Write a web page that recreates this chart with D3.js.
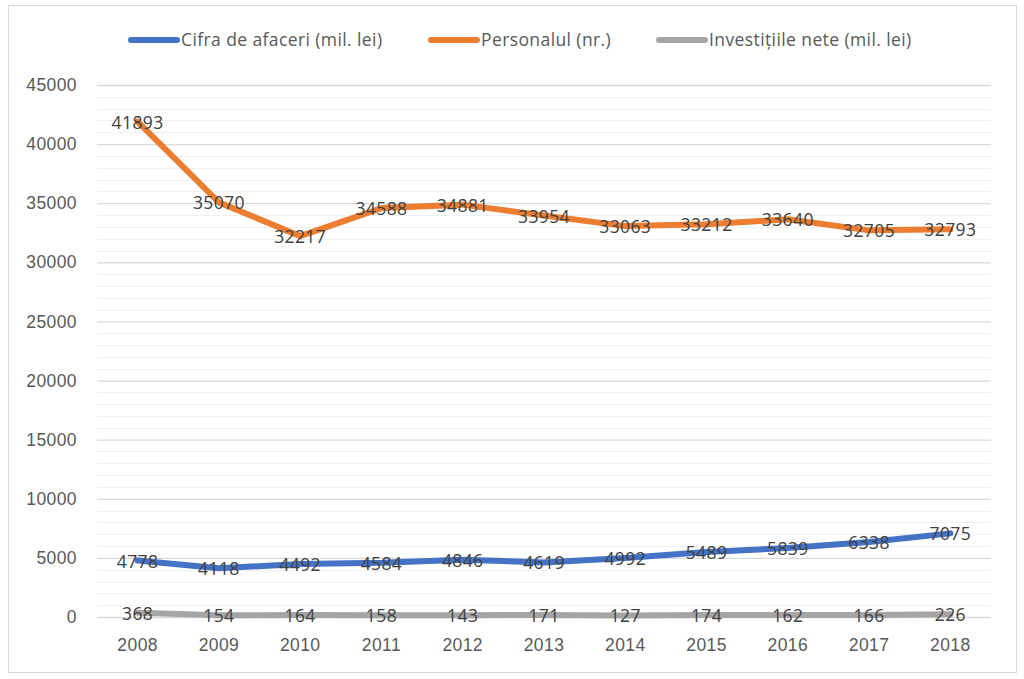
<!DOCTYPE html>
<html lang="ro">
<head>
<meta charset="UTF-8">
<title>Cifra de afaceri, personal, investitii</title>
<script src="https://d3js.org/d3.v7.min.js"></script>
<style>
    body, html { margin: 0; padding: 0; background: #fff; }
    svg { display: block; font-family: "Open Sans", "Noto Sans", sans-serif; }
</style>
</head>
<body>
<div id="chart"></div>
<script>
// data
var years = ["2008","2009","2010","2011","2012","2013","2014","2015","2016","2017","2018"];
var cifraAfaceri = [4778, 4118, 4492, 4584, 4846, 4619, 4992, 5489, 5839, 6338, 7075];
var personalul = [41893, 35070, 32217, 34588, 34881, 33954, 33063, 33212, 33640, 32705, 32793];
var investitii = [368, 154, 164, 158, 143, 171, 127, 174, 162, 166, 226];
var seriesNames = ["Cifra de afaceri (mil. lei)", "Personalul (nr.)", "Investițiile nete (mil. lei)"];
var yTicks = [0, 5000, 10000, 15000, 20000, 25000, 30000, 35000, 40000, 45000];

var W = 1024, H = 679;
var margin = {top: 85, right: 33, bottom: 62, left: 97};
var width = W - margin.left - margin.right,
    height = H - margin.top - margin.bottom;

var svg = d3.select("#chart").append("svg")
    .attr("width", W).attr("height", H);

// frame
svg.append("rect")
    .attr("x", 8.5).attr("y", 5.5)
    .attr("width", 1008).attr("height", 667)
    .attr("fill", "#fff").attr("stroke", "#d9d9d9").attr("stroke-width", 1);

var g = svg.append("g")
    .attr("transform", "translate(" + margin.left + "," + margin.top + ")");

var x = d3.scaleBand().domain(years).range([0, width]);
var y = d3.scaleLinear().domain([0, 45000]).range([height, 0]);

// minor gridlines every 1000
g.selectAll(".minor")
    .data(d3.range(1000, 45000, 1000).filter(function(v) { return v % 5000 !== 0; }))
    .enter().append("line")
    .attr("x1", 0).attr("x2", width)
    .attr("y1", function(d) { return Math.round(y(d)) + 0.5; })
    .attr("y2", function(d) { return Math.round(y(d)) + 0.5; })
    .attr("stroke", "#f0f0f0").attr("stroke-width", 1);

// major gridlines + y labels
var yAxis = g.append("g")
    .call(d3.axisLeft(y).tickValues(yTicks).tickSize(-width).tickFormat(d3.format("d")));
yAxis.select(".domain").remove();
yAxis.selectAll(".tick line").attr("stroke", "#d9d9d9").attr("stroke-width", 1.3);
yAxis.selectAll(".tick text")
    .attr("x", -20).attr("font-size", 17.5).attr("letter-spacing", 0.4).attr("fill", "#595959");

// x labels
var xAxis = g.append("g")
    .attr("transform", "translate(0," + height + ")")
    .call(d3.axisBottom(x).tickSize(0));
xAxis.select(".domain").remove();
xAxis.selectAll(".tick text")
    .attr("y", 28).attr("dy", "0.36em")
    .attr("font-size", 17.5).attr("letter-spacing", 0.4).attr("fill", "#595959");

var colors = ["#4472C4", "#ED7D31", "#A5A5A5"];
var allSeries = [cifraAfaceri, personalul, investitii];

var line = d3.line()
    .x(function(d, i) { return x(years[i]) + x.bandwidth() / 2; })
    .y(function(d) { return y(d); });

// draw grey first, then blue, then orange
[2, 0, 1].forEach(function(k) {
    g.append("path")
        .datum(allSeries[k])
        .attr("fill", "none")
        .attr("stroke", colors[k])
        .attr("stroke-width", 6)
        .attr("stroke-linejoin", "round")
        .attr("stroke-linecap", "round")
        .attr("d", line);
});

// data labels centred on points
allSeries.forEach(function(s) {
    g.selectAll(null).data(s).enter().append("text")
        .attr("x", function(d, i) { return x(years[i]) + x.bandwidth() / 2; })
        .attr("y", function(d) { return y(d); })
        .attr("dy", "0.4em")
        .attr("text-anchor", "middle")
        .attr("font-size", 17.5)
        .attr("letter-spacing", 0.4)
        .attr("fill", "#404040")
        .text(function(d) { return d; });
});

// legend
var legendX = [128, 428, 656];
seriesNames.forEach(function(name, k) {
    svg.append("line")
        .attr("x1", legendX[k] + 3).attr("x2", legendX[k] + 49)
        .attr("y1", 40).attr("y2", 40)
        .attr("stroke", colors[k]).attr("stroke-width", 6)
        .attr("stroke-linecap", "round");
    svg.append("text")
        .attr("x", legendX[k] + 53).attr("y", 40)
        .attr("dy", "0.35em")
        .attr("font-size", 17.5)
        .attr("letter-spacing", 0.4)
        .attr("fill", "#595959")
        .text(name);
});
</script>
</body>
</html>
